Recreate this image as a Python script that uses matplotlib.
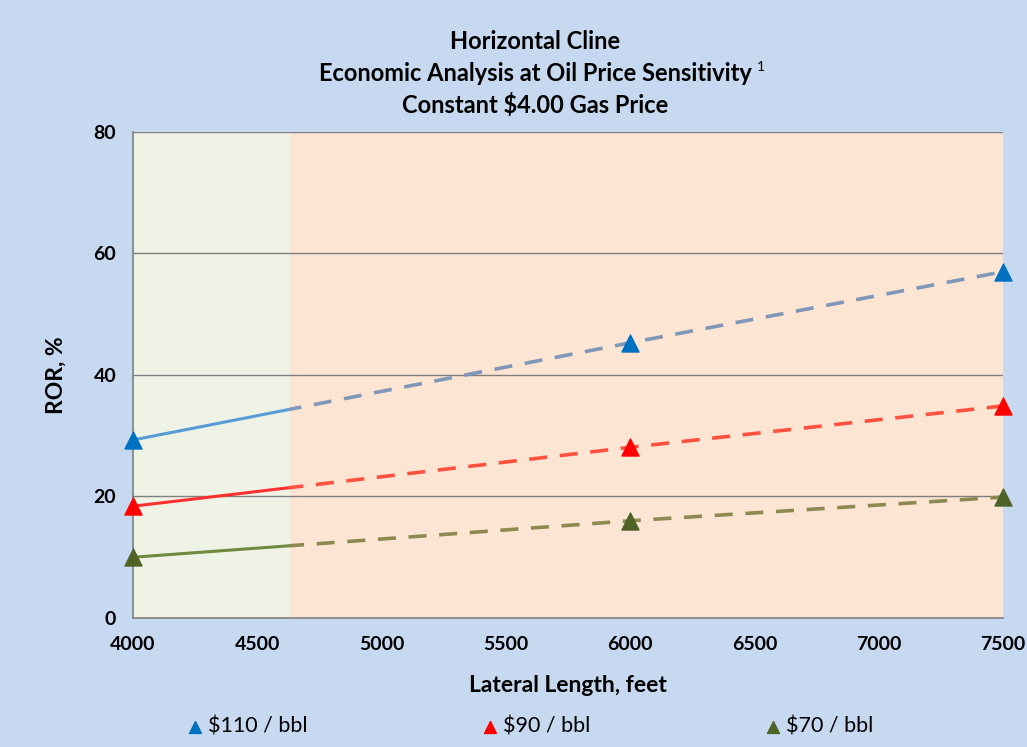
import matplotlib
matplotlib.use('Agg')
import matplotlib.pyplot as plt
from matplotlib.patches import Rectangle

plt.rcParams['font.family'] = ['Lato', 'DejaVu Sans']
plt.rcParams['font.weight'] = 'bold'

# data
lengths = [4000, 6000, 7500]
ror_110 = [29.3, 45.3, 57.0]
ror_90 = [18.4, 28.1, 34.9]
ror_70 = [10.0, 16.0, 19.9]
labels = ['$110 / bbl', '$90 / bbl', '$70 / bbl']
split_x = 4627  # edge between green and orange zones

series = [
    (ror_110, '#0070c0', '#5b9bd5', '#8197b7'),
    (ror_90, '#ff0000', '#ff3030', '#ff5040'),
    (ror_70, '#4f6228', '#6f8a3c', '#8c8a50'),
]

fig = plt.figure(figsize=(10.27, 7.47), dpi=100)
fig.patch.set_facecolor('#c6d9f0')
ax = fig.add_axes([0.1295, 0.1727, 0.847, 0.6506])
ax.set_facecolor('#fde5d4')

ax.set_xlim(4000, 7500)
ax.set_ylim(0, 80)
ax.axvspan(4000, split_x, color='#eff3e5', zorder=0)

ax.set_yticks([0, 20, 40, 60, 80])
ax.set_xticks(range(4000, 7501, 500))
for y in [20, 40, 60, 80]:
    ax.axhline(y, color='#7f7f7f', lw=1.0, zorder=1)

green_clip = Rectangle((4000, 0), split_x - 4000, 80, transform=ax.transData)
orange_clip = Rectangle((split_x, 0), 7500 - split_x, 80, transform=ax.transData)

handles = []
for (vals, mcol, scol, dcol), lab in zip(series, labels):
    solid, = ax.plot(lengths, vals, color=scol, lw=2.2, zorder=3)
    solid.set_clip_path(green_clip)
    dashed, = ax.plot(lengths, vals, color=dcol, lw=2.6, ls=(0, (5, 3.5)), zorder=3)
    dashed.set_clip_path(orange_clip)
    pts = ax.scatter(lengths, vals, marker='^', s=150, color=mcol, zorder=4,
                     clip_on=False, label=lab)
    handles.append(pts)

for side in ['top', 'right']:
    ax.spines[side].set_visible(False)
for side in ['left', 'bottom']:
    ax.spines[side].set_color('#808080')
    ax.spines[side].set_linewidth(1.2)
ax.tick_params(axis='x', length=0, labelsize=14, pad=13)
ax.tick_params(axis='y', length=0, labelsize=14, pad=12)
for t in ax.get_xticklabels() + ax.get_yticklabels():
    t.set_fontweight('bold')

ax.set_xlabel('Lateral Length, feet', fontsize=16.5, fontweight='bold', labelpad=16)
ax.set_ylabel('ROR, %', fontsize=16.5, fontweight='bold', labelpad=19)

title_kw = dict(ha='center', va='center', fontsize=17, fontweight='bold')
fig.text(0.521, 0.944, 'Horizontal Cline', **title_kw)
t2 = fig.text(0.521, 0.902, 'Economic Analysis at Oil Price Sensitivity', **title_kw)
fig.text(0.521, 0.860, 'Constant $4.00 Gas Price', **title_kw)
ax.annotate('1', xy=(1, 0.75), xycoords=t2, xytext=(4, 0), textcoords='offset points',
            ha='left', va='center', fontsize=10, fontweight='normal')

leg = fig.legend(handles=handles, labels=labels, loc='center', ncol=3,
                 bbox_to_anchor=(0.515, 0.027), frameon=False, fontsize=15.5,
                 columnspacing=8.0, handletextpad=0.1, markerscale=0.7,
                 handlelength=1.0)
for t in leg.get_texts():
    t.set_fontweight('normal')

fig.savefig('out.png', dpi=100, facecolor=fig.get_facecolor())
